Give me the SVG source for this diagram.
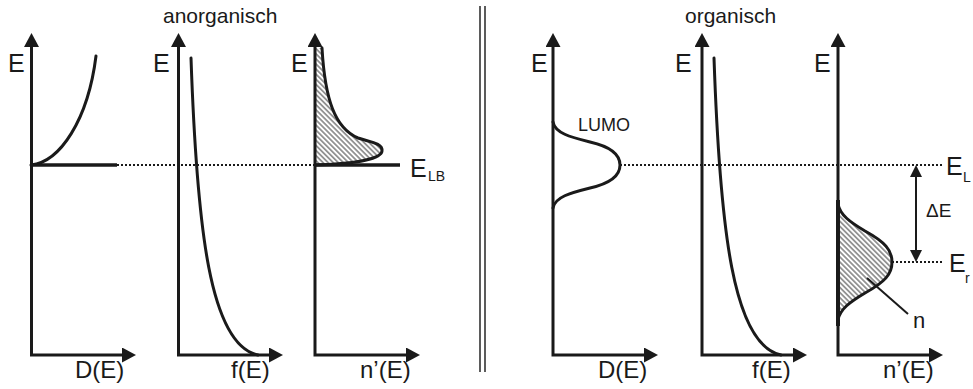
<svg xmlns="http://www.w3.org/2000/svg" width="973" height="389" viewBox="0 0 973 389">
<defs>
<style>
.txt{font-family:"Liberation Sans",Arial,sans-serif;fill:#1a1a1a}
.ax{fill:none;stroke:#1a1a1a;stroke-width:3;stroke-linejoin:miter}
.cv{fill:none;stroke:#1a1a1a;stroke-width:3;stroke-linecap:round}
.dot{fill:none;stroke:#1a1a1a;stroke-width:2;stroke-dasharray:2 2}
.sep{stroke:#333;stroke-width:1.6}
</style>
<marker id="ah" markerUnits="userSpaceOnUse" markerWidth="14" markerHeight="15" viewBox="0 0 14 15" refX="0" refY="7.5" orient="auto-start-reverse">
<path d="M0,0 L14,7.5 L0,15 Z" fill="#1a1a1a"/>
</marker>
<marker id="ahs" markerUnits="userSpaceOnUse" markerWidth="12" markerHeight="12" viewBox="0 0 12 12" refX="0" refY="6" orient="auto-start-reverse">
<path d="M0,0 L12,6 L0,12 Z" fill="#1a1a1a"/>
</marker>
<pattern id="hatch" patternUnits="userSpaceOnUse" width="10" height="3.6" patternTransform="rotate(45)">
<line x1="0" y1="1.8" x2="10" y2="1.8" stroke="#1a1a1a" stroke-width="0.9"/>
</pattern>
</defs>

<g id="separator">
<line class="sep" x1="480" y1="6" x2="480" y2="372"/>
<line class="sep" x1="485" y1="6" x2="485" y2="372"/>
</g>

<g id="titles">
<text class="txt" x="163" y="23" font-size="21">anorganisch</text>
<text class="txt" x="685" y="23" font-size="21">organisch</text>
</g>

<g id="panel-D-inorganic">
<path class="ax" d="M31.5,47 V355 H122" marker-start="url(#ah)" marker-end="url(#ah)"/>
<text class="txt" x="8" y="72" font-size="25">E</text>
<text class="txt" x="75" y="378" font-size="24">D(E)</text>
<path class="cv" d="M31,165 C60,162 88,120 96,56"/>
<line x1="31" y1="165" x2="117" y2="165" stroke="#1a1a1a" stroke-width="3.5"/>
</g>

<g id="panel-f-inorganic">
<path class="ax" d="M178.5,47 V355 H269" marker-start="url(#ah)" marker-end="url(#ah)"/>
<text class="txt" x="153" y="72" font-size="25">E</text>
<text class="txt" x="231" y="378" font-size="24">f(E)</text>
<path class="cv" d="M191,58 C197,230 210,345 258,355"/>
</g>

<g id="panel-n-inorganic">
<path d="M315,48 L322,48 C325,100 335,128 358,138 C370,142 383,143 382,151 C381,160 350,164 315,165 Z" fill="url(#hatch)"/>
<path class="cv" d="M322,48 C325,100 335,128 358,138 C370,142 383,143 382,151 C381,160 350,164 315,165"/>
<path class="ax" d="M315,47 V355 H406" marker-start="url(#ah)" marker-end="url(#ah)"/>
<text class="txt" x="291" y="72" font-size="25">E</text>
<text class="txt" x="360" y="378" font-size="24">n’(E)</text>
<line x1="315" y1="165" x2="400" y2="165" stroke="#1a1a1a" stroke-width="3.5"/>
<text class="txt" x="410" y="177" font-size="25">E</text>
<text class="txt" x="428" y="181" font-size="14">LB</text>
</g>

<g id="panel-D-organic">
<path class="ax" d="M553,47 V355 H644" marker-start="url(#ah)" marker-end="url(#ah)"/>
<text class="txt" x="531" y="72" font-size="25">E</text>
<text class="txt" x="598" y="378" font-size="24">D(E)</text>
<path class="cv" d="M553,122 C555,133 570,137 590,142 C612,147 620,155 620,165 C620,175 612,183 590,188 C570,193 555,197 553,208"/>
<text class="txt" x="578" y="131" font-size="18">LUMO</text>
</g>

<g id="panel-f-organic">
<path class="ax" d="M702,47 V355 H793" marker-start="url(#ah)" marker-end="url(#ah)"/>
<text class="txt" x="675" y="72" font-size="25">E</text>
<text class="txt" x="752" y="378" font-size="24">f(E)</text>
<path class="cv" d="M714,58 C720,230 733,345 781,355"/>
</g>

<g id="panel-n-organic">
<path d="M838,204 C840,215 850,222 865,231 C885,242 892,250 892,262 C892,274 885,282 865,293 C850,302 840,309 838,320 Z" fill="url(#hatch)"/>
<path class="cv" d="M838,204 C840,215 850,222 865,231 C885,242 892,250 892,262 C892,274 885,282 865,293 C850,302 840,309 838,320"/>
<path class="ax" d="M838,47 V355 H929" marker-start="url(#ah)" marker-end="url(#ah)"/>
<line x1="838" y1="200" x2="838" y2="326" stroke="#1a1a1a" stroke-width="4"/>
<text class="txt" x="814" y="72" font-size="25">E</text>
<text class="txt" x="883" y="378" font-size="24">n’(E)</text>
<line x1="867" y1="278" x2="908" y2="314" stroke="#1a1a1a" stroke-width="2"/>
<text class="txt" x="913" y="328" font-size="22">n</text>
<text class="txt" x="946" y="175" font-size="25">E</text>
<text class="txt" x="963" y="182" font-size="14">L</text>
<text class="txt" x="926" y="217" font-size="19">ΔE</text>
<text class="txt" x="949" y="272" font-size="25">E</text>
<text class="txt" x="965" y="283" font-size="14">r</text>
</g>

<g id="connectors">
<line class="dot" x1="117" y1="165" x2="315" y2="165"/>
<line class="dot" x1="620" y1="165" x2="943" y2="165"/>
<line class="dot" x1="892" y1="262" x2="942" y2="262"/>
<line x1="916" y1="177" x2="916" y2="250" stroke="#1a1a1a" stroke-width="2" marker-start="url(#ahs)" marker-end="url(#ahs)"/>
</g>
</svg>
